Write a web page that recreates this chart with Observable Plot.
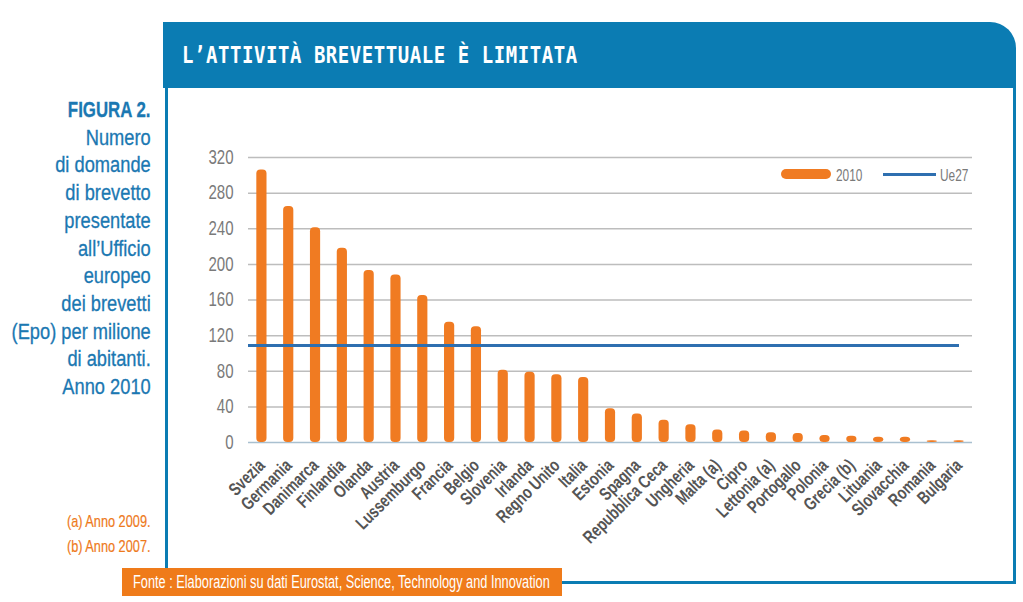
<!DOCTYPE html>
<html>
<head>
<meta charset="utf-8">
<script src="https://cdn.jsdelivr.net/npm/d3@7"></script>
<script src="https://cdn.jsdelivr.net/npm/@observablehq/plot@0.6"></script>
<style>
  html, body { margin: 0; padding: 0; background: #fff; }
  #wrap { position: relative; width: 1023px; height: 602px; overflow: hidden;
    font-family: "Liberation Sans", Arial, sans-serif; }
  .abs { position: absolute; }
  #titlebar { left: 163px; top: 22px; width: 853px; height: 66px; background: #0b7cb3; border-top-right-radius: 26px; }
  #title { left: 182px; top: 40px; color: #fff; font-family: "DejaVu Sans Mono", monospace; font-weight: bold; font-size: 19px; letter-spacing: 0.55px; transform: scaleY(1.25); transform-origin: left top; white-space: nowrap; }
  #borderL { left: 165px; top: 88px; width: 3px; height: 480px; background: #0b7cb3; }
  #borderR { left: 1013px; top: 88px; width: 3px; height: 496px; background: #0b7cb3; }
  #borderB { left: 562px; top: 581px; width: 454px; height: 3px; background: #0b7cb3; }
  #caption { right: 872px; top: 96px; text-align: right; color: #1b78b2; font-size: 21.5px; line-height: 27.7px; white-space: nowrap; transform: scaleX(0.85); transform-origin: right top; -webkit-text-stroke: 0.3px #1b78b2; }
  #caption b { display: inline-block; font-size: 22.5px; transform: scaleX(0.88); transform-origin: right center; }
  #notes { right: 872px; top: 509px; text-align: right; color: #ee7a1c; font-size: 17px; line-height: 25px; white-space: nowrap; transform: scaleX(0.75); transform-origin: right top; -webkit-text-stroke: 0.2px #ee7a1c; }
  #source { left: 122px; top: 568px; width: 440px; height: 28px; background: #ef7b1a; }
  #sourceText { position: absolute; left: 11px; top: 0; color: #fff; font-size: 17.5px; line-height: 28px; white-space: nowrap; transform-origin: left center; }
  #chart { left: 166px; top: 130px; }
  #chart svg text { font-family: "Liberation Sans", Arial, sans-serif; }
  #chart g[aria-label^="x-axis"] text { font-weight: bold; fill: #555; font-size: 18px; }
  #chart g[aria-label^="y-axis"] text { fill: #7a7a7a; font-size: 19.5px; }
  .leg-text { color: #7a7a7a; font-size: 16.5px; line-height: 16px; transform: scaleX(0.72); transform-origin: left center; }
</style>
</head>
<body>
<div id="wrap">
  <div id="titlebar" class="abs"></div>
  <div id="title" class="abs">L’ATTIVITÀ BREVETTUALE È LIMITATA</div>
  <div id="borderL" class="abs"></div>
  <div id="borderR" class="abs"></div>
  <div id="borderB" class="abs"></div>
  <div id="caption" class="abs"><b>FIGURA 2.</b><br>Numero<br>di domande<br>di brevetto<br>presentate<br>all’Ufficio<br>europeo<br>dei brevetti<br>(Epo) per milione<br>di abitanti.<br>Anno 2010</div>
  <div id="notes" class="abs">(a) Anno 2009.<br>(b) Anno 2007.</div>
  <div id="source" class="abs"><span id="sourceText">Fonte : Elaborazioni su dati Eurostat, Science, Technology and Innovation</span></div>
  <div id="chart" class="abs"></div>
  <div class="abs" style="left:781px;top:169px;width:50px;height:10px;border-radius:5px;background:#f07b22;"></div>
  <div class="abs leg-text" style="left:836px;top:167px;">2010</div>
  <div class="abs" style="left:883px;top:173px;width:53px;height:3px;background:#2e6fb0;"></div>
  <div class="abs leg-text" style="left:940px;top:167px;">Ue27</div>
</div>
<script>
const countries = ["Svezia","Germania","Danimarca","Finlandia","Olanda","Austria","Lussemburgo","Francia","Belgio","Slovenia","Irlanda","Regno Unito","Italia","Estonia","Spagna","Repubblica Ceca","Ungheria","Malta (a)","Cipro","Lettonia (a)","Portogallo","Polonia","Grecia (b)","Lituania","Slovacchia","Romania","Bulgaria"];
const values2010 = [306,265,241,218,193,188,165,135,130,81,79,76,73,38,32,25,20,14,13,11,10,8,7,6,6,2,2];
const ue27 = [109];
const yTicks = [0,40,80,120,160,200,240,280,320];

const data = countries.map((c, i) => ({country: c, value: values2010[i]}));

const chart = Plot.plot({
  width: 849,
  height: 440,
  marginLeft: 82,
  marginRight: 43,
  marginTop: 27,
  marginBottom: 128,
  style: {background: "transparent", overflow: "visible"},
  x: {domain: countries, paddingInner: 0.62, paddingOuter: 0.31, round: false, tickSize: 0, tickRotate: -45, tickPadding: 20, label: null},
  y: {domain: [0, 320], ticks: yTicks, tickSize: 0, tickPadding: 15, label: null},
  marks: [
    Plot.ruleY(yTicks.filter(d => d > 0), {stroke: "#bdbdbd", strokeWidth: 1.5}),
    Plot.ruleY([0], {stroke: "#a9c0d0", strokeWidth: 1.5}),
    Plot.barY(data, {x: "country", y: "value", fill: "#f07b22", rx: 4}),
    Plot.ruleY(ue27, {stroke: "#2e6fb0", strokeWidth: 3, insetRight: 13})
  ]
});
document.getElementById("chart").appendChild(chart);

// condense axis labels horizontally about their anchor point
function condense(sel, s) {
  chart.querySelectorAll(sel).forEach(t => {
    const x = parseFloat(t.getAttribute("x")) || 0;
    const y = parseFloat(t.getAttribute("y")) || 0;
    const tr = t.getAttribute("transform") || "";
    t.setAttribute("transform", `${tr} translate(${x},${y}) scale(${s},1) translate(${-x},${-y})`);
  });
}
condense('g[aria-label^="x-axis"] text', 0.76);
condense('g[aria-label^="y-axis"] text', 0.77);

// fit source text into its box
const st = document.getElementById("sourceText");
st.style.transform = `scaleX(${417 / st.offsetWidth})`;
</script>
</body>
</html>
